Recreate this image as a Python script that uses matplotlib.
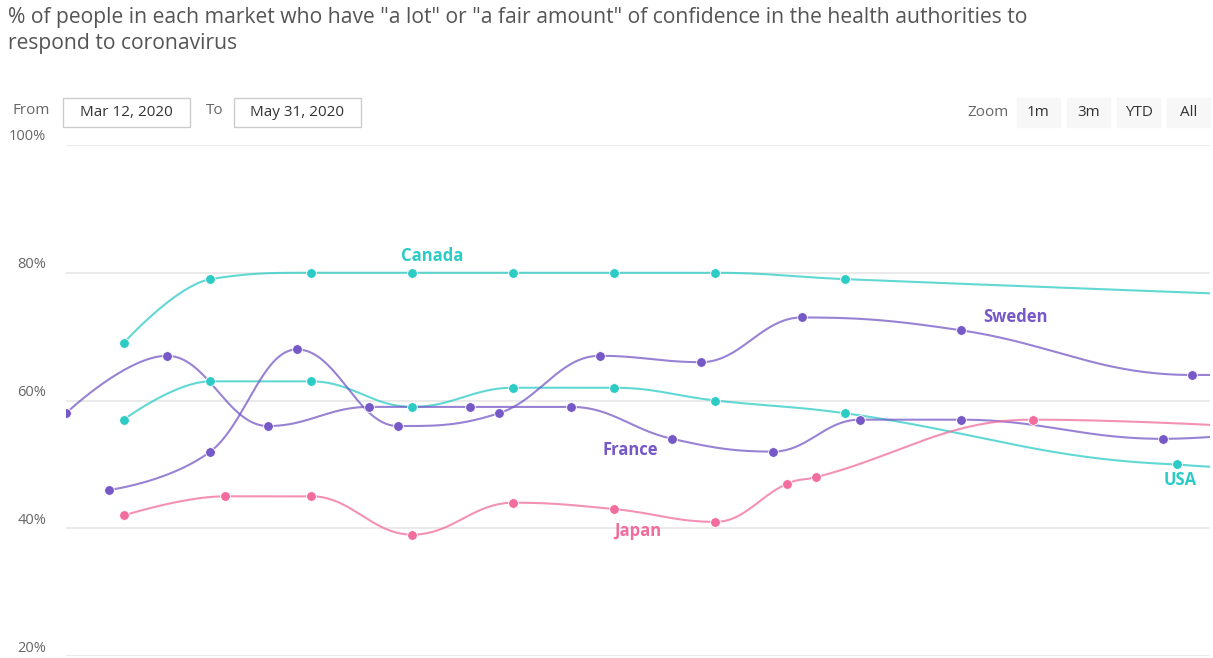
import numpy as np
import matplotlib
matplotlib.use("Agg")
import matplotlib.pyplot as plt
from matplotlib.patches import Rectangle
import matplotlib.transforms as mtransforms

plt.rcParams['font.family'] = ['Open Sans', 'DejaVu Sans']

W, H = 1213, 658
start = np.datetime64('2020-03-12')

# survey dates and values per market (last date of each list is off the right edge)
canada_dates = ['2020-03-16', '2020-03-22', '2020-03-29', '2020-04-05', '2020-04-12',
                '2020-04-19', '2020-04-26', '2020-05-05', '2020-06-05']
canada_vals = [69, 79, 80, 80, 80, 80, 80, 79, 76.3]

usa_dates = ['2020-03-16', '2020-03-22', '2020-03-29', '2020-04-05', '2020-04-12',
             '2020-04-19', '2020-04-26', '2020-05-05', '2020-05-28', '2020-06-05']
usa_vals = [57, 63, 63, 59, 62, 62, 60, 58, 50, 49.3]

france_dates = ['2020-03-12', '2020-03-19', '2020-03-26', '2020-04-02', '2020-04-09',
                '2020-04-16', '2020-04-23', '2020-04-30', '2020-05-06', '2020-05-13',
                '2020-05-27', '2020-06-05']
france_vals = [58, 67, 56, 59, 59, 59, 54, 52, 57, 57, 54, 55.5]

sweden_dates = ['2020-03-15', '2020-03-22', '2020-03-28', '2020-04-04', '2020-04-11',
                '2020-04-18', '2020-04-25', '2020-05-02', '2020-05-13', '2020-05-29',
                '2020-06-05']
sweden_vals = [46, 52, 68, 56, 58, 67, 66, 73, 71, 64, 64]

japan_dates = ['2020-03-16', '2020-03-23', '2020-03-29', '2020-04-05', '2020-04-12',
               '2020-04-19', '2020-04-26', '2020-05-01', '2020-05-03', '2020-05-18',
               '2020-06-05']
japan_vals = [42, 45, 45, 39, 44, 43, 41, 47, 48, 57, 55.5]

y_ticks = [20, 40, 60, 80, 100]
y_labels = ['20%', '40%', '60%', '80%', '100%']

TEAL, PURPLE, PINK = '#2ccbc5', '#7658c6', '#f06d9d'
series = [
    ('Canada', canada_dates, canada_vals, TEAL),
    ('USA', usa_dates, usa_vals, TEAL),
    ('France', france_dates, france_vals, PURPLE),
    ('Sweden', sweden_dates, sweden_vals, PURPLE),
    ('Japan', japan_dates, japan_vals, PINK),
]


def days(dates):
    return np.array([(np.datetime64(d) - start).astype(int) for d in dates], float)


def spline(x, y, n=40):
    # highcharts style spline
    k = len(x)
    lc = [(x[i], y[i]) for i in range(k)]
    rc = [(x[i], y[i]) for i in range(k)]
    s, den = 1.5, 2.5
    for i in range(1, k - 1):
        px, py = x[i], y[i]
        lx, ly, nx, ny = x[i-1], y[i-1], x[i+1], y[i+1]
        lcx = (s*px + lx)/den
        lcy = (s*py + ly)/den
        rcx = (s*px + nx)/den
        rcy = (s*py + ny)/den
        corr = 0
        if rcx != lcx:
            corr = (rcy - lcy)*(rcx - px)/(rcx - lcx) + py - rcy
        lcy += corr
        rcy += corr
        if lcy > ly and lcy > py:
            lcy = max(ly, py); rcy = 2*py - lcy
        elif lcy < ly and lcy < py:
            lcy = min(ly, py); rcy = 2*py - lcy
        if rcy > ny and rcy > py:
            rcy = max(ny, py); lcy = 2*py - rcy
        elif rcy < ny and rcy < py:
            rcy = min(ny, py); lcy = 2*py - rcy
        lc[i] = (lcx, lcy)
        rc[i] = (rcx, rcy)
    t = np.linspace(0, 1, n)[:, None]
    pts = []
    for i in range(k - 1):
        p0 = np.array([x[i], y[i]])
        p1 = np.array(rc[i])
        p2 = np.array(lc[i+1])
        p3 = np.array([x[i+1], y[i+1]])
        b = ((1-t)**3)*p0 + 3*((1-t)**2)*t*p1 + 3*(1-t)*t**2*p2 + t**3*p3
        pts.append(b if i == 0 else b[1:])
    pts = np.vstack(pts)
    return pts[:, 0], pts[:, 1]


fig = plt.figure(figsize=(W/100, H/100), dpi=100)
ax = fig.add_axes([66/W, 1 - 656/H, (1210-66)/W, (656-145)/H])

for name, d, v, c in series:
    x = days(d)
    sx, sy = spline(x, np.array(v, float))
    ax.plot(sx, sy, color=c, lw=1.5, alpha=0.75, zorder=3, solid_capstyle='round')
    ax.plot(x, v, 'o', color=c, ms=7, mec='white', mew=0.6, zorder=4)

ax.set_xlim(0, 79.28)
ax.set_ylim(20, 100)
ax.set_yticks(y_ticks)
ax.set_yticklabels([])
ax.set_xticks([])
ax.tick_params(length=0)
ax.grid(axis='y', color='#e6e6e6', lw=1.2)
for sp in ax.spines.values():
    sp.set_visible(False)

off = mtransforms.offset_copy(ax.get_yaxis_transform(), fig=fig, x=0, y=8, units='dots')
for v, lab in zip(y_ticks, y_labels):
    ax.text(-20/1144, v, lab, transform=off, ha='right', va='center',
            fontsize=10.5, color='#666666', clip_on=False)

# series labels
lab_style = dict(fontsize=12, fontweight='bold', ha='center', va='center', zorder=5)
ax.text(25.4, 82.6, 'Canada', color=TEAL, **lab_style)
ax.text(65.8, 73.1, 'Sweden', color=PURPLE, **lab_style)
ax.text(39.1, 52.3, 'France', color=PURPLE, **lab_style)
ax.text(39.6, 39.6, 'Japan', color=PINK, **lab_style)
ax.text(77.2, 47.6, 'USA', color=TEAL, **lab_style)

# title
fig.text(8/W, 1 - 18/H, '% of people in each market who have "a lot" or "a fair amount" of confidence in the health authorities to',
         fontsize=15.2, color='#555555', va='center', ha='left')
fig.text(8/W, 1 - 44/H, 'respond to coronavirus',
         fontsize=15.2, color='#555555', va='center', ha='left')


def box(x0, y0, x1, y1, fc, ec):
    fig.patches.append(Rectangle((x0/W, 1 - y1/H), (x1-x0)/W, (y1-y0)/H,
                                 transform=fig.transFigure, fc=fc, ec=ec, lw=1))


# range selector
ui = dict(fontsize=11, va='center')
fig.text(13/W, 1 - 111/H, 'From', color='#666666', **ui)
box(63, 98, 190, 127, 'white', '#cccccc')
fig.text(126/W, 1 - 112/H, 'Mar 12, 2020', color='#333333', ha='center', **ui)
fig.text(206/W, 1 - 111/H, 'To', color='#666666', **ui)
box(234, 98, 361, 127, 'white', '#cccccc')
fig.text(297/W, 1 - 112/H, 'May 31, 2020', color='#333333', ha='center', **ui)

fig.text(988/W, 1 - 112/H, 'Zoom', color='#666666', ha='center', **ui)
for x0, lab in zip([1017, 1067, 1117, 1167], ['1m', '3m', 'YTD', 'All']):
    box(x0, 98, x0 + 43, 127, '#f7f7f7', '#f7f7f7')
    fig.text((x0 + 21.5)/W, 1 - 112/H, lab, color='#333333', ha='center', **ui)

fig.savefig('out.png', dpi=100)
